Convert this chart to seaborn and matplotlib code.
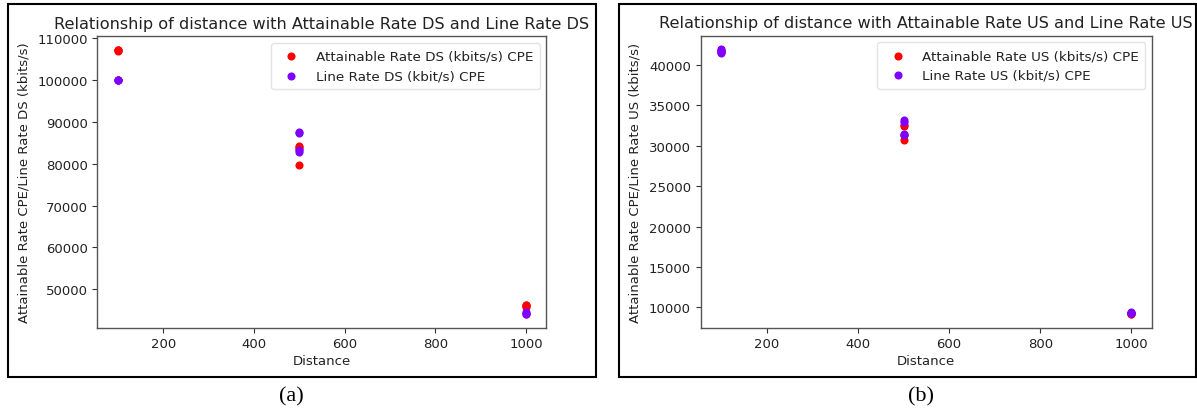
import matplotlib
matplotlib.use("Agg")
import matplotlib.pyplot as plt
from matplotlib.patches import Rectangle
import seaborn as sns

# Measurements per cable distance (m)
distance = [100, 100, 100, 100, 500, 500, 500, 500, 1000, 1000, 1000, 1000]

# Downstream rates (kbit/s)
attainable_ds = [107300, 107100, 107200, 107000,
                 84300, 84000, 79800, 83500,
                 46300, 46000, 45800, 46100]
line_ds = [100000, 99900, 100000, 100000,
           87600, 87400, 83200, 82800,
           44500, 44100, 44300, 44000]

# Upstream rates (kbit/s)
attainable_us = [41800, 41600, 41900, 41700,
                 32600, 32500, 30700, 31300,
                 9200, 9150, 9250, 9300]
line_us = [42000, 41600, 41800, 41500,
           33200, 32900, 31500, 31300,
           9350, 9300, 9400, 9250]

titles = ["Relationship of distance with Attainable Rate DS and Line Rate DS",
          "Relationship of distance with Attainable Rate US and Line Rate US"]
ylabels = ["Attainable Rate CPE/Line Rate DS (kbits/s)",
           "Attainable Rate CPE/Line Rate US (kbits/s)"]
legend_labels = [["Attainable Rate DS (kbits/s) CPE", "Line Rate DS (kbit/s) CPE"],
                 ["Attainable Rate US (kbits/s) CPE", "Line Rate US (kbit/s) CPE"]]
captions = ["(a)", "(b)"]

RED = "#ff0000"
PURPLE = "#8000ff"

sns.set_style("white")
plt.rcParams["font.family"] = ["DejaVu Sans"]
plt.rcParams["text.color"] = "#222222"
plt.rcParams["axes.labelcolor"] = "#222222"
plt.rcParams["xtick.color"] = "#222222"
plt.rcParams["ytick.color"] = "#222222"

W, H = 1197, 414
fig = plt.figure(figsize=(W / 100, H / 100), dpi=100)

axes_px = [(97.4, 37.3, 546.4, 328.5), (700.6, 36.7, 1152.0, 328.5)]
frames_px = [(8, 5, 596, 377.5), (619, 5, 1196, 377.5)]
caption_x = [291, 921]

series = [(attainable_ds, line_ds), (attainable_us, line_us)]

for i in range(2):
    x0, y0, x1, y1 = axes_px[i]
    ax = fig.add_axes([x0 / W, 1 - y1 / H, (x1 - x0) / W, (y1 - y0) / H])
    att, line = series[i]
    sns.scatterplot(x=distance, y=att, color=RED, s=34, linewidth=0,
                    label=legend_labels[i][0], ax=ax)
    sns.scatterplot(x=distance, y=line, color=PURPLE, s=34, linewidth=0,
                    label=legend_labels[i][1], ax=ax)
    ax.set_xticks([200, 400, 600, 800, 1000])
    ax.set_title(titles[i], fontsize=11.6, pad=6)
    ax.set_xlabel("Distance", fontsize=9.5, labelpad=3)
    ax.set_ylabel(ylabels[i], fontsize=9.5, labelpad=5)
    ax.tick_params(axis="both", labelsize=9.5, direction="out", length=3.5,
                   width=0.8, color="#333333", left=True, bottom=True)
    for sp in ax.spines.values():
        sp.set_color("#555555")
        sp.set_linewidth(1.0)
    ax.legend(loc="upper right", fontsize=9.7, frameon=True, edgecolor="#dddddd",
              handletextpad=0.8, borderpad=0.5, markerscale=1.0)

    fx0, fy0, fx1, fy1 = frames_px[i]
    fig.patches.append(Rectangle((fx0 / W, 1 - fy1 / H), (fx1 - fx0) / W, (fy1 - fy0) / H,
                                 transform=fig.transFigure, fill=False,
                                 edgecolor="black", linewidth=1.5))
    fig.text(caption_x[i] / W, 1 - 397 / H, captions[i], ha="center", va="center",
             fontsize=16, family="Liberation Serif", color="black")

fig.savefig("out.png", dpi=100, facecolor="white")
